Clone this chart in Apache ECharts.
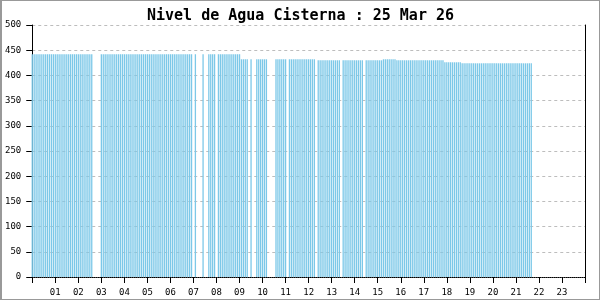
<!DOCTYPE html>
<html>
<head>
<meta charset="utf-8">
<script src="https://cdn.jsdelivr.net/npm/echarts@6/dist/echarts.min.js"></script>
<style>
html,body{margin:0;padding:0;background:#fff;}
#c{width:600px;height:300px;box-sizing:border-box;border:1px solid #999;border-left:2px solid #999;}
</style>
</head>
<body>
<div id="c"></div>
<script>
// Reading interval (minutes) and water levels per 5-minute slot starting 00:00 (null = no reading)
var slotMinutes = 5;
var levels = [
  442,442,442,442,442,442,442,442,442,442,442,442,           // 00
  442,442,442,442,442,442,442,442,442,442,442,442,           // 01
  442,442,442,442,442,442,442,442,null,null,null,null,       // 02
  442,442,442,442,442,442,442,442,442,442,442,442,           // 03
  442,442,442,442,442,442,442,442,442,442,442,442,           // 04
  442,442,442,442,442,442,442,442,442,442,442,442,           // 05
  442,442,442,442,442,442,442,442,442,442,442,442,           // 06
  null,442,null,null,null,442,null,null,442,442,442,442,     // 07
  null,442,442,442,442,442,442,442,442,442,442,442,          // 08
  442,432,432,432,432,null,432,null,null,432,432,432,        // 09
  432,432,432,null,null,null,null,432,432,432,432,432,       // 10
  432,null,432,432,432,432,432,432,432,432,432,432,          // 11
  432,432,432,432,null,430,430,430,430,430,430,430,          // 12
  430,430,430,430,430,null,430,430,430,430,430,430,          // 13
  430,430,430,430,430,null,430,430,430,430,430,430,          // 14
  430,430,430,432,432,432,432,432,432,432,430,430,           // 15
  430,430,430,430,430,430,430,430,430,430,430,430,           // 16
  430,430,430,430,430,430,430,430,430,430,430,426,           // 17
  426,426,426,426,426,426,426,426,424,424,424,424,           // 18
  424,424,424,424,424,424,424,424,424,424,424,424,           // 19
  424,424,424,424,424,424,424,424,424,424,424,424,           // 20
  424,424,424,424,424,424,424,424,424                        // 21
];
var titleText = 'Nivel de Agua Cisterna : 25 Mar 26';
var hourLabels = ['01','02','03','04','05','06','07','08','09','10','11','12',
                  '13','14','15','16','17','18','19','20','21','22','23'];

var points = [];
levels.forEach(function (v, i) {
  if (v !== null) points.push([i * slotMinutes / 60, v]);
});

var font = 'DejaVu Sans Mono';
var chart = echarts.init(document.getElementById('c'), null, {renderer: 'canvas'});
chart.setOption({
  animation: false,
  backgroundColor: '#fff',
  title: {
    text: titleText, left: 'center', top: 3,
    textStyle: {fontFamily: font, fontSize: 15, fontWeight: 'bold', color: '#000'}
  },
  grid: {left: 29, right: 14, top: 24, bottom: 22},
  xAxis: {
    type: 'value', min: 0, max: 24, interval: 1,
    axisLine: {show: true, lineStyle: {color: '#000', type: 'dotted', width: 1}},
    axisTick: {show: true, length: 6, lineStyle: {color: '#000'}},
    axisLabel: {
      fontFamily: font, fontSize: 9, color: '#000', margin: 11,
      formatter: function (v) { return (v >= 1 && v <= 23) ? hourLabels[v - 1] : ''; }
    },
    splitLine: {show: false}
  },
  yAxis: [{
    type: 'value', min: 0, max: 500, interval: 50,
    axisLine: {show: true, lineStyle: {color: '#000'}},
    axisTick: {show: true, length: 6, lineStyle: {color: '#000'}},
    axisLabel: {fontFamily: font, fontSize: 9, color: '#000', margin: 11},
    splitLine: {show: true, lineStyle: {color: '#bdbdbd', type: [3, 3]}}
  }, {
    type: 'value', min: 0, max: 500, interval: 50, position: 'right',
    axisLine: {show: true, lineStyle: {color: '#000'}},
    axisTick: {show: false}, axisLabel: {show: false}, splitLine: {show: false}
  }],
  series: [{
    type: 'bar', data: points, barWidth: 1.3,
    itemStyle: {color: '#7cc8e8'}
  }]
});
</script>
</body>
</html>
